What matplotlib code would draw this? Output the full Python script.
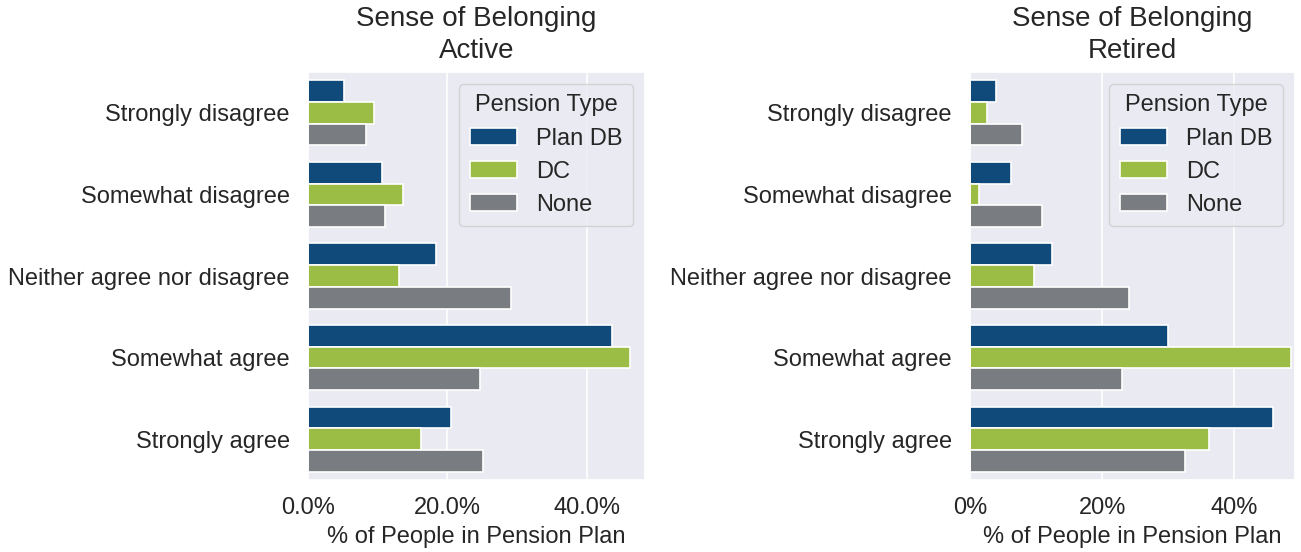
import numpy as np
import matplotlib
matplotlib.use('Agg')
import matplotlib.pyplot as plt
import seaborn as sns
from matplotlib.ticker import PercentFormatter

sns.set_theme(style='darkgrid')
plt.rcParams['font.family'] = ['Liberation Sans', 'DejaVu Sans']

#%% data (share of people)
responses = ['Strongly disagree', 'Somewhat disagree', 'Neither agree nor disagree',
             'Somewhat agree', 'Strongly agree']
pension_types = ['Plan DB', 'DC', 'None']

active_db = [0.052, 0.106, 0.184, 0.437, 0.205]
active_dc = [0.095, 0.137, 0.131, 0.462, 0.162]
active_none = [0.084, 0.111, 0.291, 0.247, 0.251]

retired_db = [0.039, 0.062, 0.124, 0.300, 0.458]
retired_dc = [0.025, 0.014, 0.097, 0.486, 0.362]
retired_none = [0.078, 0.109, 0.241, 0.230, 0.326]

colors = ['#0f4a7a', '#9cbd45', '#797c81']

#%%
fig = plt.figure(figsize=(13.01, 5.52), dpi=100)
ax1 = fig.add_axes([0.2367, 0.1304, 0.2591, 0.7392])
ax2 = fig.add_axes([0.7456, 0.1304, 0.2498, 0.7392])

def draw_panel(ax, series, title, xmax, decimals):
    y = np.arange(len(responses))
    h = 0.8 / len(series)
    for i, (vals, name) in enumerate(zip(series, pension_types)):
        ax.barh(y - 0.4 + h * (i + 0.5), vals, height=h, color=colors[i],
                edgecolor='white', linewidth=1.2, label=name)
    ax.set_yticks(y)
    ax.set_yticklabels(responses, fontsize=17)
    ax.set_ylim(len(responses) - 0.5, -0.5)
    ax.set_xlim(0, xmax)
    ax.set_xticks([0, 0.2, 0.4])
    ax.xaxis.set_major_formatter(PercentFormatter(xmax=1, decimals=decimals))
    ax.tick_params(axis='x', labelsize=17, pad=6)
    ax.tick_params(axis='y', pad=7)
    ax.yaxis.grid(False)
    ax.xaxis.grid(True, color='white', linewidth=1.2)
    ax.set_xlabel('% of People in Pension Plan', fontsize=17, labelpad=5)
    ax.set_title(title, fontsize=20, pad=10, color='#262626', linespacing=1.3)
    leg = ax.legend(title='Pension Type', loc='upper right', fontsize=17,
                    title_fontsize=17, borderpad=0.45, labelspacing=0.47,
                    handlelength=2.0, handletextpad=0.8)
    leg.get_frame().set_edgecolor('#cccccc')

draw_panel(ax1, [active_db, active_dc, active_none], 'Sense of Belonging\nActive', 0.484, 1)
draw_panel(ax2, [retired_db, retired_dc, retired_none], 'Sense of Belonging\nRetired', 0.492, 0)

plt.savefig('out.png', dpi=100)
